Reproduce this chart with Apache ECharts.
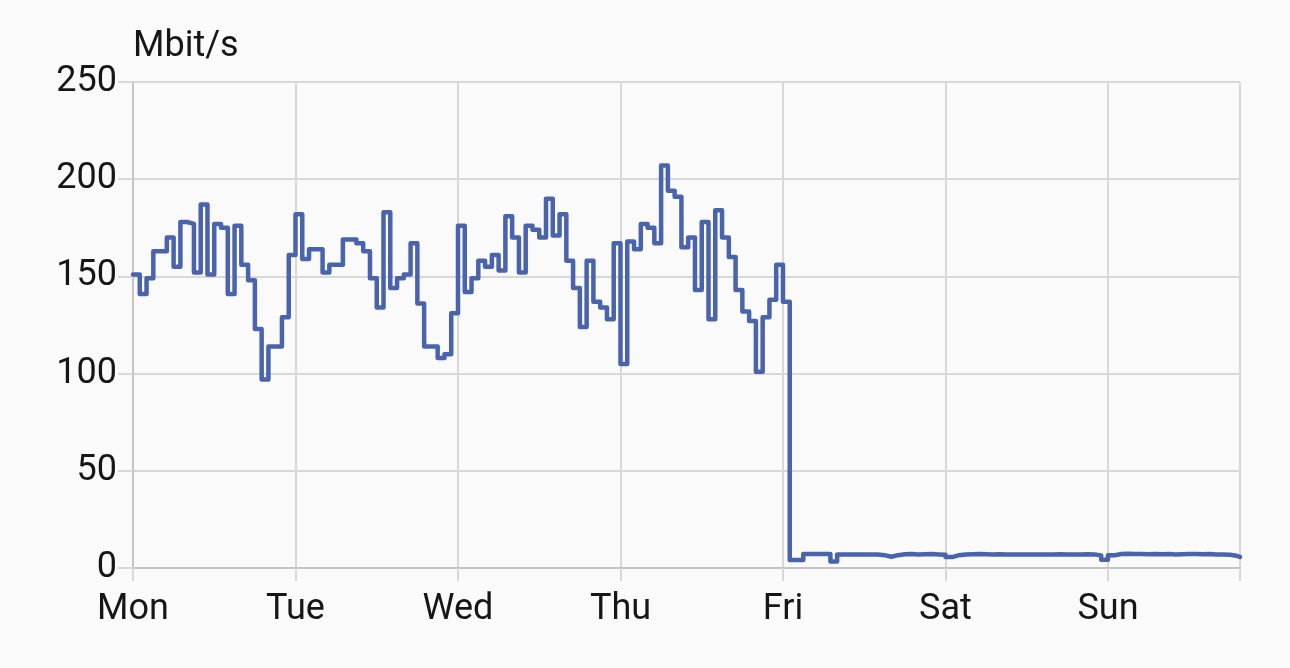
<!DOCTYPE html>
<html><head><meta charset="utf-8">
<script src="https://cdn.jsdelivr.net/npm/echarts@6/dist/echarts.min.js"></script>
<style>html,body{margin:0;padding:0;background:#fafafa;}#c{width:1290px;height:668px;}</style>
</head><body><div id="c"></div>
<script>
// Day labels for the x axis (one tick every 24 hours, starting Monday 00:00)
const dayLabels = ['Mon', 'Tue', 'Wed', 'Thu', 'Fri', 'Sat', 'Sun'];

// Hourly throughput in Mbit/s, hour 0 = Monday 00:00
const hourlySpeed = [
  // Mon
  151, 141, 149, 163, 163, 170, 155, 178, 177, 152, 187, 151,
  177, 175, 141, 176, 156, 148, 123, 97, 114, 114, 129, 161,
  // Tue
  182, 159, 164, 164, 152, 156, 156, 169, 169, 167, 163, 149,
  134, 183, 144, 149, 151, 167, 136, 114, 114, 108, 110, 131,
  // Wed
  176, 142, 149, 158, 155, 161, 153, 181, 170, 152, 176, 174,
  170, 190, 171, 182, 158, 144, 124, 158, 137, 134, 128, 167,
  // Thu
  105, 168, 164, 177, 175, 167, 207, 194, 191, 165, 170, 143,
  178, 128, 184, 170, 160, 143, 132, 127, 101, 129, 138, 156,
  // Fri
  137, 4.1, 4.1, 7.2, 7.2, 7.2, 7.2, 3.3, 6.9, 7.0, 7.0, 6.9,
  7.0, 7.0, 6.6, 5.8, 6.6, 7.1, 7.2, 7.0, 7.1, 7.2, 7.0, 6.8,
  // Sat
  5.6, 6.6, 7.0, 7.1, 7.2, 7.1, 7.0, 7.1, 7.0, 6.9, 6.9, 7.0,
  6.9, 7.0, 6.9, 7.0, 7.1, 7.0, 6.9, 7.0, 7.1, 7.0, 6.5, 4.3,
  // Sun
  6.6, 7.2, 7.3, 7.2, 7.2, 7.1, 7.2, 7.1, 7.2, 7.0, 7.1, 7.2,
  7.2, 7.1, 7.2, 7.0, 6.9, 6.8, 6.3, 5.7
];
const axisEndHour = 163.5;   // last sample time (hours since Mon 00:00)
const endSpeed = 5.7;

const points = hourlySpeed.map((v, i) => [i, v]);
points.push([axisEndHour, endSpeed]);

const FONT = 'Roboto';
const TEXT = '#161616';
const GRID = '#d8d8d8';
const AXIS = '#c4c4c4';

const chart = echarts.init(document.getElementById('c'), null, {renderer: 'canvas'});
chart.setOption({
  backgroundColor: '#fafafa',
  animation: false,
  textStyle: {fontFamily: FONT},
  grid: {left: 133, right: 50, top: 82, bottom: 100, containLabel: false},
  xAxis: {
    type: 'value', min: 0, max: axisEndHour, interval: 24,
    axisLine: {show: true, lineStyle: {color: AXIS, width: 2}},
    axisTick: {show: true, length: 13, lineStyle: {color: GRID, width: 2}},
    splitLine: {show: true, lineStyle: {color: GRID, width: 2}},
    axisLabel: {
      fontFamily: FONT, fontSize: 36, color: TEXT, margin: 24,
      formatter: v => (v % 24 === 0 ? (dayLabels[v / 24] || '') : '')
    }
  },
  yAxis: {
    type: 'value', min: 0, max: 250, interval: 50,
    name: 'Mbit/s', nameLocation: 'end', nameGap: 35,
    nameTextStyle: {fontFamily: FONT, fontSize: 36, color: TEXT, align: 'left', verticalAlign: 'middle'},
    axisLine: {show: true, lineStyle: {color: AXIS, width: 2}},
    axisTick: {show: true, length: 15, lineStyle: {color: GRID, width: 2}},
    splitLine: {show: true, lineStyle: {color: GRID, width: 2}},
    axisLabel: {fontFamily: FONT, fontSize: 36, color: TEXT, margin: 16}
  },
  series: [{
    type: 'line', step: 'end', data: points,
    showSymbol: false, symbol: 'none',
    color: '#4a63ad',
    lineStyle: {color: '#4a63ad', width: 4.5, join: 'round', cap: 'round'}
  }]
});
</script>
</body></html>
